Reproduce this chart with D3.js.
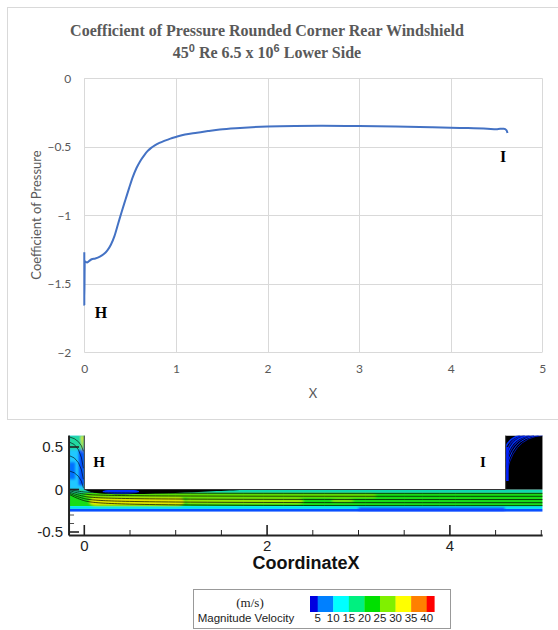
<!DOCTYPE html>
<html><head><meta charset="utf-8">
<script src="https://cdn.jsdelivr.net/npm/d3@7"></script>
<style>body{margin:0;background:#fff}svg{display:block}</style>
</head><body>
<script>
// ---- line chart data ----
const xValues = [0, 0, 0.005, 0.03, 0.05, 0.08, 0.12, 0.17, 0.21, 0.25, 0.29, 0.33, 0.37, 0.41, 0.45, 0.49, 0.53, 0.57, 0.61, 0.65, 0.69, 0.73, 0.77, 0.82, 0.88, 0.94, 1.0, 1.1, 1.23, 1.35, 1.48, 1.7, 2.0, 2.3, 2.6, 3.0, 3.4, 3.8, 4.1, 4.4, 4.5, 4.54, 4.58, 4.61, 4.62];
const cpValues = [-1.27, -1.655, -1.335, -1.345, -1.335, -1.321, -1.315, -1.302, -1.285, -1.258, -1.215, -1.15, -1.06, -0.97, -0.885, -0.8, -0.72, -0.655, -0.605, -0.566, -0.532, -0.508, -0.49, -0.472, -0.455, -0.44, -0.428, -0.41, -0.397, -0.385, -0.373, -0.362, -0.352, -0.348, -0.347, -0.349, -0.352, -0.357, -0.362, -0.368, -0.372, -0.368, -0.369, -0.38, -0.40];
const xTicks = [0, 1, 2, 3, 4, 5];
const yTicks = [0, -0.5, -1, -1.5, -2];

// ---- contour plot data ----
const cxTicksMajor = [0, 2, 4];
const cxTicksMinor = [0.5, 1, 1.5, 2.5, 3, 3.5, 4.5, 5];
const cyTicksMajor = [0.5, 0, -0.5];
const channelBands = [ // [yTop, yBottom, colour]
  [0, -0.04, "#10d8b0"],
  [-0.04, -0.195, "#18dc18"],
  [-0.195, -0.228, "#00e8f0"],
  [-0.228, -0.262, "#0850ff"]
];
const limeBands = [ // [x0, x1, yTop, yBottom, colour]
  [0.0, 3.2, -0.05, -0.1, "#70e000"],
  [0.05, 1.1, -0.1, -0.19, "#e6e600"],
  [1.1, 2.4, -0.11, -0.17, "#a0e800"],
  [2.7, 2.95, -0.12, -0.145, "#c0e800"]
];
const contourLevels = [-0.045, -0.08, -0.118, -0.155, -0.19];
const legendLabels = ["5", "10", "15", "20", "25", "30", "35", "40"];
const legendColors = ["#0000e0", "#0080ff", "#00ffff", "#00f080", "#00e000", "#80f000", "#ffff00", "#ff8000", "#ff0000"];

const W = 558, H = 630;
const svg = d3.select("body").append("svg").attr("width", W).attr("height", H);

// ---------- TOP LINE CHART ----------
svg.append("rect").attr("x", 7.5).attr("y", 7.5).attr("width", 560).attr("height", 412)
  .attr("fill", "#fff").attr("stroke", "#d9d9d9");

const x = d3.scaleLinear([0, 5], [84.3, 542.3]);
const y = d3.scaleLinear([-2, 0], [352.3, 78.3]);

const serif = "'Liberation Serif','Times New Roman',serif";
svg.append("text").attr("text-anchor", "middle").attr("x", 267).attr("y", 36)
  .attr("font-family", serif).attr("font-weight", "bold").attr("font-size", 16).attr("fill", "#595959")
  .text("Coefficient of Pressure Rounded Corner Rear Windshield");
const l2 = svg.append("text").attr("text-anchor", "middle").attr("y", 58).attr("x", 267)
  .attr("font-family", serif).attr("font-weight", "bold").attr("font-size", 16).attr("fill", "#595959");
l2.append("tspan").text("45");
l2.append("tspan").attr("dy", -6).attr("font-size", 11).attr("font-family", "'Liberation Sans',Arial,sans-serif").text("0");
l2.append("tspan").attr("dy", 6).text(" Re 6.5 x 10");
l2.append("tspan").attr("dy", -6).attr("font-size", 11).attr("font-family", "'Liberation Sans',Arial,sans-serif").text("6");
l2.append("tspan").attr("dy", 6).text(" Lower Side");

const grid = svg.append("g").attr("stroke", "#d9d9d9").attr("stroke-width", 1);
xTicks.forEach(t => grid.append("line").attr("x1", Math.round(x(t)) + 0.5).attr("x2", Math.round(x(t)) + 0.5).attr("y1", y(0)).attr("y2", y(-2)));
yTicks.forEach(t => grid.append("line").attr("y1", Math.round(y(t)) + 0.5).attr("y2", Math.round(y(t)) + 0.5).attr("x1", x(0)).attr("x2", x(5)));

const yAx = svg.append("g").attr("transform", `translate(${x(0) - 10},0)`)
  .call(d3.axisLeft(y).tickValues(yTicks).tickSize(0).tickFormat(d => d === 0 ? "0" : d3.format("")(d)));
yAx.select(".domain").remove();
yAx.selectAll("text").attr("font-family", "Lato,'Noto Sans',sans-serif").attr("font-size", 12).attr("fill", "#595959");

const xAx = svg.append("g").attr("transform", `translate(0,${y(-2) + 9})`)
  .call(d3.axisBottom(x).tickValues(xTicks).tickSize(0).tickFormat(d3.format("d")));
xAx.select(".domain").remove();
xAx.selectAll("text").attr("font-family", "Lato,'Noto Sans',sans-serif").attr("font-size", 12).attr("fill", "#595959");

svg.append("text").attr("transform", "translate(41,215) rotate(-90)").attr("text-anchor", "middle")
  .attr("font-family", "Lato,'Noto Sans',sans-serif").attr("font-size", 13).attr("fill", "#595959")
  .text("Coefficient of Pressure");
svg.append("text").attr("x", 313).attr("y", 398).attr("text-anchor", "middle")
  .attr("font-family", "Lato,'Noto Sans',sans-serif").attr("font-size", 13).attr("fill", "#595959").text("X");

const pts = xValues.map((v, i) => [v, cpValues[i]]);
svg.append("path").datum(pts).attr("fill", "none").attr("stroke", "#4472c4").attr("stroke-width", 2)
  .attr("stroke-linejoin", "round")
  .attr("d", d3.line().x(d => x(d[0])).y(d => y(d[1])).curve(d3.curveMonotoneX));

svg.append("text").attr("x", 101).attr("y", 318).attr("text-anchor", "middle")
  .attr("font-family", serif).attr("font-weight", "bold").attr("font-size", 16).text("H");
svg.append("text").attr("x", 503).attr("y", 162).attr("text-anchor", "middle")
  .attr("font-family", serif).attr("font-weight", "bold").attr("font-size", 16).text("I");

// ---------- CONTOUR PLOT ----------
const cx = d3.scaleLinear([0, 5], [84.3, 541.3]);
const cy = d3.scaleLinear([-0.5, 0.5], [532, 447]);
const xMin = -0.167, xMax = 5.015, yTop = 0.635, yBot = -0.262, blockX = 4.61;

const defs = svg.append("defs");
const domain = [[xMin, yTop], [0, yTop], [0, 0], [blockX, 0], [blockX, yTop], [xMax, yTop], [xMax, yBot], [xMin, yBot]];
defs.append("clipPath").attr("id", "flow").append("path")
  .attr("d", "M" + domain.map(p => cx(p[0]) + "," + cy(p[1])).join("L") + "Z");
const blur = defs.append("filter").attr("id", "soft").attr("x", "-5%").attr("y", "-50%").attr("width", "110%").attr("height", "200%");
blur.append("feGaussianBlur").attr("stdDeviation", 1.2);

const flow = svg.append("g").attr("clip-path", "url(#flow)");
const R = (x0, x1, y0, y1, col, g = flow) => g.append("rect")
  .attr("x", cx(x0)).attr("y", cy(y0)).attr("width", cx(x1) - cx(x0)).attr("height", cy(y1) - cy(y0)).attr("fill", col);

// channel bands
channelBands.forEach(b => R(xMin, xMax, b[0], b[1], b[2]));
const soft = flow.append("g").attr("filter", "url(#soft)");
limeBands.forEach(b => soft.append("rect").attr("x", cx(b[0])).attr("y", cy(b[2]))
  .attr("width", cx(b[1]) - cx(b[0])).attr("height", cy(b[3]) - cy(b[2])).attr("rx", 6).attr("fill", b[4]));
soft.append("rect").attr("x", cx(3.0)).attr("y", cy(-0.215)).attr("width", cx(4.6) - cx(3.0)).attr("height", 3).attr("fill", "#1040ff");

// inlet column
R(xMin, 0, yTop, -0.01, "#20c8ff");
const inl = flow.append("g").attr("filter", "url(#soft)");
inl.append("rect").attr("x", cx(-0.06)).attr("y", cy(0.48)).attr("width", cx(0) - cx(-0.06)).attr("height", cy(0.05) - cy(0.48)).attr("fill", "#0050ff");
inl.append("rect").attr("x", cx(xMin)).attr("y", cy(0.32)).attr("width", cx(-0.1) - cx(xMin)).attr("height", cy(0.12) - cy(0.32)).attr("fill", "#0070ff");
inl.append("rect").attr("x", cx(xMin)).attr("y", cy(yTop)).attr("width", cx(0) - cx(xMin)).attr("height", cy(0.47) - cy(yTop)).attr("fill", "#20d8a0");
inl.append("path").attr("d", `M${cx(-0.04)},${cy(yTop)}L${cx(0)},${cy(yTop)}L${cx(-0.02)},${cy(0.42)}Z`).attr("fill", "#d8e800");
inl.append("rect").attr("x", cx(xMin)).attr("y", cy(0.0)).attr("width", cx(0) - cx(xMin)).attr("height", cy(-0.05) - cy(0.0)).attr("fill", "#20d890");

// separation bubble
const bubble = [[0.0, 0], [0.1, -0.045], [0.4, -0.06], [0.9, -0.045], [1.3, -0.025], [1.7, -0.005], [1.9, 0]];
flow.append("path").datum(bubble).attr("fill", "#000")
  .attr("d", d3.area().x(d => cx(d[0])).y0(cy(0)).y1(d => cy(d[1])).curve(d3.curveBasis));
flow.append("ellipse").attr("cx", cx(0.4)).attr("cy", cy(-0.025)).attr("rx", cx(0.6) - cx(0.4)).attr("ry", 2.2).attr("fill", "#0030ff");

// contour lines
contourLevels.forEach(lv => {
  const p = [[xMin, lv * 0.4 + 0.02], [-0.03, lv * 0.7], [0.25, lv], [xMax, lv]];
  flow.append("path").datum(p).attr("fill", "none").attr("stroke", "#000").attr("stroke-width", 0.7)
    .attr("d", d3.line().x(d => cx(d[0])).y(d => cy(d[1])).curve(d3.curveBasis));
});
[[0.56, 0.25], [0.4, 0.12], [0.22, 0.02], [0.62, 0.45]].forEach(a => {
  flow.append("path").attr("fill", "none").attr("stroke", "#000").attr("stroke-width", 0.6)
    .attr("d", `M${cx(xMin)},${cy(a[0])}Q${cx(-0.04)},${cy(a[0] - 0.03)} ${cx(-0.01)},${cy(a[1])}`);
});

// right block
R(blockX, xMax, yTop, 0, "#000");
const blk = flow.append("g");
[0.6, 0.52, 0.44, 0.36, 0.28, 0.2].forEach((s, i) => {
  blk.append("path").attr("fill", "none").attr("stroke", i % 2 ? "#0018c0" : "#0030ff").attr("stroke-width", 1.6 - i * 0.15)
    .attr("d", `M${cx(blockX)},${cy(s - 0.1)}Q${cx(blockX + 0.05)},${cy(yTop - 0.02)} ${cx(blockX + 0.16 + i * 0.05)},${cy(yTop)}`);
});
blk.append("rect").attr("x", cx(blockX)).attr("y", cy(0.5)).attr("width", 3).attr("height", cy(0.1) - cy(0.5)).attr("fill", "#0020ff");

// outlines
svg.append("path").attr("fill", "none").attr("stroke", "#333").attr("stroke-width", 1)
  .attr("d", `M${cx(0)},${cy(yTop)}L${cx(0)},${cy(0)}L${cx(blockX)},${cy(0)}L${cx(blockX)},${cy(yTop)}`);

// contour axes
const axC = svg.append("g").attr("stroke", "#222");
axC.append("line").attr("x1", cx(xMin)).attr("x2", cx(xMin)).attr("y1", cy(yTop)).attr("y2", 535.5).attr("stroke-width", 2);
axC.append("line").attr("x1", cx(xMin)).attr("x2", cx(xMax)).attr("y1", 535.5).attr("y2", 535.5).attr("stroke-width", 2);
cxTicksMajor.forEach(t => axC.append("line").attr("x1", cx(t)).attr("x2", cx(t)).attr("y1", 535).attr("y2", 525).attr("stroke-width", 1.6));
cxTicksMinor.forEach(t => axC.append("line").attr("x1", cx(t)).attr("x2", cx(t)).attr("y1", 535).attr("y2", 530).attr("stroke-width", 1));
cyTicksMajor.forEach(t => axC.append("line").attr("x1", cx(xMin)).attr("x2", cx(xMin) + 10).attr("y1", cy(t)).attr("y2", cy(t)).attr("stroke-width", 1.6));
[-0.3, -0.4].forEach(t => axC.append("line").attr("x1", cx(xMin)).attr("x2", cx(xMin) + 5).attr("y1", cy(t)).attr("y2", cy(t)).attr("stroke-width", 0.8));

const af = "'Liberation Sans',Arial,sans-serif";
cxTicksMajor.forEach(t => svg.append("text").attr("x", cx(t)).attr("y", 551).attr("text-anchor", "middle")
  .attr("font-family", af).attr("font-size", 15).attr("fill", "#222").text(t));
cyTicksMajor.forEach(t => svg.append("text").attr("x", 63).attr("y", cy(t) + 5).attr("text-anchor", "end")
  .attr("font-family", af).attr("font-size", 15).attr("fill", "#222").text(t === 0 ? "0" : String(t)));
svg.append("text").attr("x", 306).attr("y", 569).attr("text-anchor", "middle").attr("font-family", af)
  .attr("font-weight", "bold").attr("font-size", 18).attr("fill", "#111").text("CoordinateX");

svg.append("text").attr("x", 99).attr("y", 467).attr("text-anchor", "middle")
  .attr("font-family", serif).attr("font-weight", "bold").attr("font-size", 15).text("H");
svg.append("text").attr("x", 483).attr("y", 467).attr("text-anchor", "middle")
  .attr("font-family", serif).attr("font-weight", "bold").attr("font-size", 15).text("I");

// ---------- COLOUR LEGEND ----------
svg.append("rect").attr("x", 193.5).attr("y", 589.5).attr("width", 257).attr("height", 39)
  .attr("fill", "#fff").attr("stroke", "#999");
svg.append("text").attr("x", 250).attr("y", 607).attr("text-anchor", "middle")
  .attr("font-family", serif).attr("font-size", 13).attr("fill", "#222").text("(m/s)");
svg.append("text").attr("x", 246).attr("y", 622).attr("text-anchor", "middle")
  .attr("font-family", af).attr("font-size", 11.5).attr("fill", "#222").text("Magnitude Velocity");
const lx = d3.scaleLinear([0, legendLabels.length - 1], [317.7, 426.7]);
const edges = [310].concat(legendLabels.map((d, i) => lx(i))).concat([434.3]);
legendColors.forEach((c, i) => svg.append("rect").attr("x", edges[i]).attr("y", 596)
  .attr("width", edges[i + 1] - edges[i] + 0.3).attr("height", 16).attr("fill", c));
legendLabels.forEach((l, i) => svg.append("text").attr("x", lx(i)).attr("y", 622).attr("text-anchor", "middle")
  .attr("font-family", af).attr("font-size", 11.5).attr("fill", "#222").text(l));
</script>
</body></html>
